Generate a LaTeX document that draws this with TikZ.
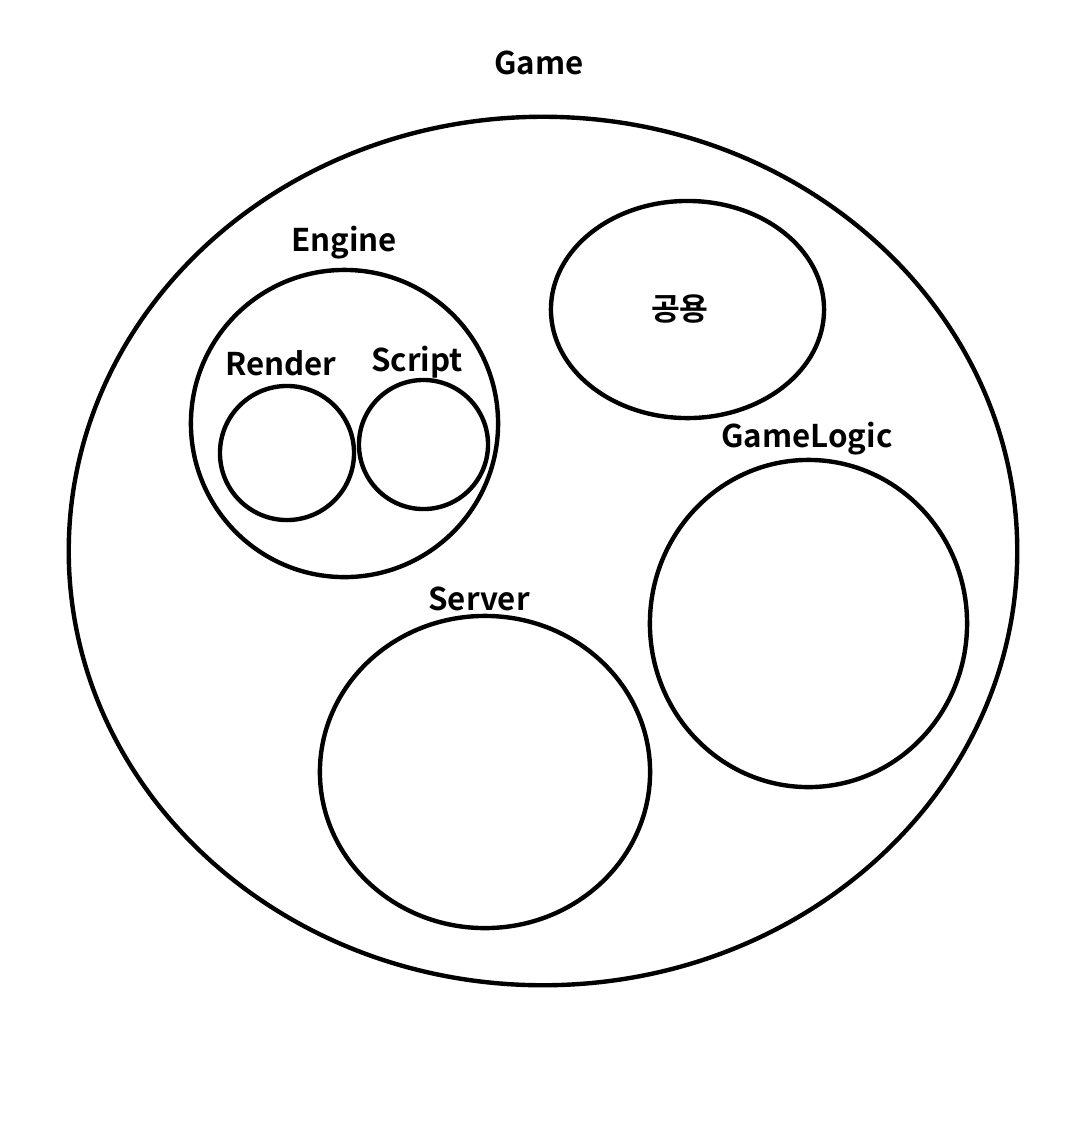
\documentclass[tikz,border=0pt]{standalone}
\usepackage{fontspec}
\setmainfont{Noto Sans CJK KR}[BoldFont={* Bold}]
\usetikzlibrary{shapes.geometric}
\tikzset{
  blob/.style={draw=black, ellipse, line width=1.25pt, inner sep=0pt},
  lbl/.style={font=\bfseries\fontsize{8.9}{10}\selectfont, inner sep=0pt}
}
\begin{document}
\begin{tikzpicture}[x=0.01cm, y=-0.01cm]
  % page frame
  \useasboundingbox (0,0) rectangle (1070,1141);

  % outer game ellipse
  \node[blob, minimum width=9.48cm, minimum height=8.68cm] (game) at (543,551) {};
  \node[lbl] (gamelbl) at (539,63) {Game};

  % engine with its two parts
  \node[blob, minimum width=3.07cm, minimum height=3.07cm] (engine) at (344.5,423.5) {};
  \node[lbl] (enginelbl) at (344,243) {Engine};
  \node[blob, minimum width=1.34cm, minimum height=1.34cm] (render) at (287,453) {};
  \node[lbl] (renderlbl) at (281,363) {Render};
  \node[blob, minimum width=1.29cm, minimum height=1.29cm] (script) at (423.5,444.5) {};
  \node[lbl] (scriptlbl) at (417,362) {Script};

  % shared part
  \node[blob, minimum width=2.73cm, minimum height=2.17cm] (common) at (687.5,309.5) {};
  \node[lbl] (commonlbl) at (680,309) {공용};

  % game logic
  \node[blob, minimum width=3.17cm, minimum height=3.27cm] (logic) at (808.5,623.5) {};
  \node[lbl] (logiclbl) at (807,439) {GameLogic};

  % server
  \node[blob, minimum width=3.30cm, minimum height=3.12cm] (server) at (485,772) {};
  \node[lbl] (serverlbl) at (479,599) {Server};
\end{tikzpicture}
\end{document}
